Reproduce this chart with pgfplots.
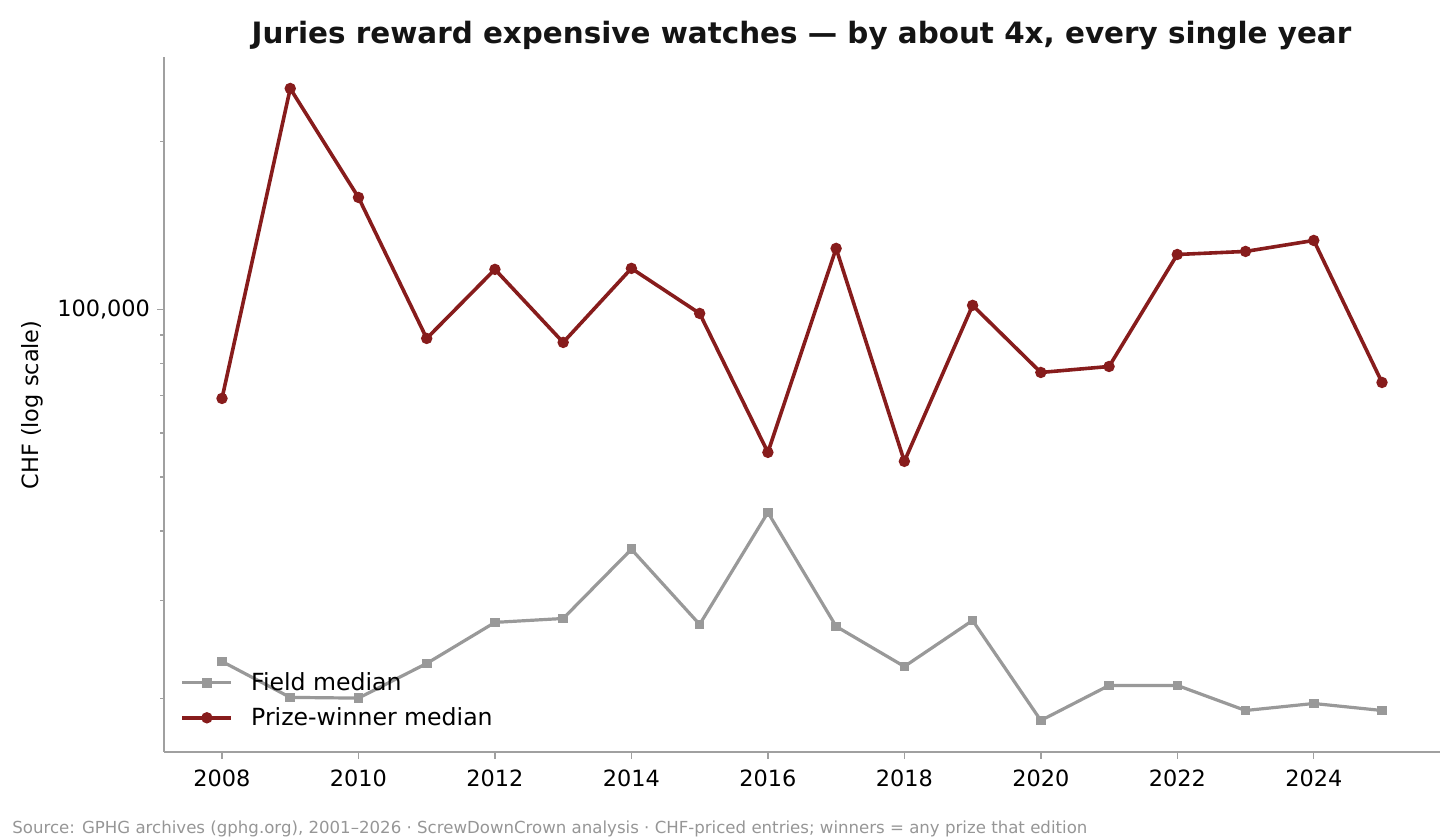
\documentclass[border=0pt]{standalone}
\usepackage{pgfplots}
\pgfplotsset{compat=1.18}
\usepackage{fontspec}
\setmainfont{DejaVu Sans}
\definecolor{winred}{RGB}{135,28,28}
\definecolor{fieldgray}{RGB}{153,153,153}
\definecolor{spinegray}{RGB}{160,160,160}
\definecolor{srcgray}{RGB}{150,150,150}
\begin{document}
\begin{tikzpicture}
\path[use as bounding box] (0pt,0pt) rectangle (728pt,419pt);
\begin{axis}[
  at={(82pt,43pt)}, anchor=south west,
  scale only axis, width=638pt, height=347.5pt,
  ymode=log, log basis y=10,
  xmin=2007.15, xmax=2025.85,
  ymin=16050, ymax=284000,
  axis x line*=bottom, axis y line*=left,
  axis line style={spinegray, line width=0.8pt, -},
  xtick={2008,2010,...,2024},
  x tick label style={/pgf/number format/set thousands separator={}, font=\fontsize{11.2}{13}\selectfont, yshift=-2pt},
  ytick={100000}, yticklabels={100{,}000},
  y tick label style={font=\fontsize{11.2}{13}\selectfont},
  minor ytick={20000,30000,40000,50000,60000,70000,80000,90000,200000},
  /pgf/number format/assume math mode=true,
  tick align=outside, tick pos=left,
  major tick length=3.5pt, minor tick length=2pt,
  tick style={spinegray, line width=0.7pt},
  legend style={at={(0.008,0.022)}, anchor=south west, draw=none, fill=none,
    font=\fontsize{11.8}{13}\selectfont, row sep=3pt, nodes={inner xsep=6pt}},
  legend cell align=left,
  legend image code/.code={
    \draw[#1] (0pt,0pt) -- (24.5pt,0pt);
    \draw[#1, only marks] plot coordinates {(12.25pt,0pt)};
    \path (27.5pt,0pt);
  },
]
\addplot[fieldgray, line width=1.6pt, mark=square*, mark size=1.6pt, mark options={solid}] coordinates {
(2008,23330) (2009,20110) (2010,20050) (2011,23140) (2012,27420) (2013,27870)
(2014,37100) (2015,27190) (2016,43200) (2017,26970) (2018,22850) (2019,27640)
(2020,18280) (2021,21130) (2022,21130) (2023,19050) (2024,19610) (2025,19050)};
\addlegendentry{Field median}
\addplot[winred, line width=1.8pt, mark=*, mark size=1.9pt, mark options={solid}] coordinates {
(2008,69220) (2009,249300) (2010,158900) (2011,88700) (2012,118000) (2013,87250)
(2014,118500) (2015,98360) (2016,55380) (2017,128700) (2018,53360) (2019,101700)
(2020,77070) (2021,79000) (2022,125500) (2023,127100) (2024,133000) (2025,73940)};
\addlegendentry{Prize-winner median}
\end{axis}
\node[font=\fontsize{14.7}{17}\selectfont\bfseries, text=black!92] at (400.75pt,401pt) {Juries reward expensive watches — by about 4x, every single year};
\node[rotate=90, font=\fontsize{11.2}{13}\selectfont] at (16pt,216.5pt) {CHF (log scale)};
\node[anchor=base west, font=\fontsize{8.3}{10}\selectfont, text=srcgray, inner sep=0pt] at (6pt,2pt) {Source: GPHG archives (gphg.org), 2001–2026 · ScrewDownCrown analysis · CHF-priced entries; winners = any prize that edition};
\end{tikzpicture}
\end{document}
